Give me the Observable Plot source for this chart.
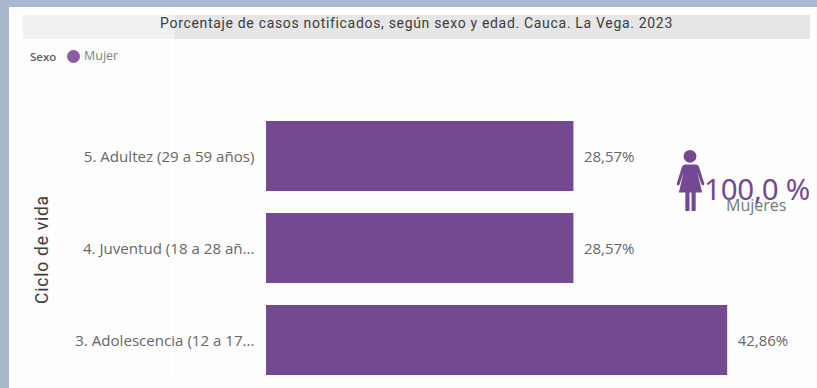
<!DOCTYPE html>
<html lang="es">
<head>
<meta charset="utf-8">
<script src="https://cdn.jsdelivr.net/npm/d3@7"></script>
<script src="https://cdn.jsdelivr.net/npm/@observablehq/plot@0.6"></script>
<style>
html,body{margin:0;padding:0;background:#fff;overflow:hidden}
#stage{position:relative;width:817px;height:388px;background:#fefefe;overflow:hidden;font-family:"Open Sans",sans-serif}
.abs{position:absolute;white-space:nowrap}
#frameTop{left:0;top:0;width:817px;height:7px;background:#a9b8cc}
#frameLeft{left:0;top:0;width:9px;height:388px;background:#a9b8cc}
#band{left:23px;top:15px;width:787px;height:24px;background:#e6e6e6}
#title{left:23px;top:14px;width:787px;text-align:center;font:14px/19px Roboto,sans-serif;letter-spacing:.68px;color:#3c3c3c}
#veil{left:11px;top:9px;width:164px;height:367px;background:rgba(255,255,255,.45);box-shadow:0 0 6px rgba(0,0,0,.025)}
#legTitle{left:30px;top:49px;font:600 11.5px/15px "Open Sans",sans-serif;color:#605e5c}
#legDot{left:67px;top:50px;width:13px;height:13px;border-radius:50%;background:#8a5ca5}
#legText{left:84px;top:48px;font:12.5px/16px "Open Sans",sans-serif;color:#7b8389}
#chart{left:0;top:0}
#icon{left:673px;top:147px}
#kpi{left:704px;top:170px;font:29.5px/38px "Noto Sans",sans-serif;color:#744992;letter-spacing:-.2px}
#kpiLabel{left:726px;top:195px;font:16px/20px "Open Sans",sans-serif;color:#6f7a80}
.ytitle text{letter-spacing:.75px}
</style>
</head>
<body>
<div id="stage">
  <div class="abs" id="frameTop"></div>
  <div class="abs" id="frameLeft"></div>
  <div class="abs" id="band"></div>
  <div class="abs" id="veil"></div>
  <div class="abs" id="title">Porcentaje de casos notificados, según sexo y edad. Cauca. La Vega. 2023</div>
  <div class="abs" id="chart"></div>
  <div class="abs" id="legTitle">Sexo</div>
  <div class="abs" id="legDot"></div>
  <div class="abs" id="legText">Mujer</div>
  <svg class="abs" id="icon" width="34" height="64" viewBox="0 0 32 62" aria-hidden="true">
    <circle cx="16" cy="9" r="6.2" fill="#744992"/>
    <path d="M10.5 17h11c1.6 0 2.8.9 3.3 2.4l5 15.6c.6 2-2 3-2.8 1l-3.800-11.200 4.600 19.200h-6.300V61c0 2.800-4 2.800-4 0V44h-2V61c0 2.800-4 2.800-4 0V44H5.200l4.600-19.200L6 36c-.8 2-3.400 1-2.800-1l5-15.600c.5-1.500 1.700-2.400 3.300-2.400z" fill="#744992"/>
  </svg>
  <div class="abs" id="kpi">100,0 %</div>
  <div class="abs" id="kpiLabel">Mujeres</div>
</div>
<script>
const categories = ["5. Adultez (29 a 59 años)", "4. Juventud (18 a 28 añ...", "3. Adolescencia (12 a 17..."];
const percentages = [28.57, 28.57, 42.86];
const axisTitle = ["Ciclo de vida"];
const rows = categories.map((ciclo, i) => ({ciclo, pct: percentages[i]}));
const fmt = v => v.toFixed(2).replace(".", ",") + "%";

const plot = Plot.plot({
  width: 817,
  height: 388,
  marginLeft: 266, marginRight: 13, marginTop: 0, marginBottom: 0,
  style: {background: "transparent", fontFamily: "'Open Sans',sans-serif", overflow: "visible"},
  x: {domain: [0, 50], range: [266, 804], axis: null},
  y: {domain: categories, range: [99, 397], padding: 0.239, label: null},
  marks: [
    Plot.axisY({
      anchor: "left",
      tickSize: 0,
      tickPadding: 12,
      fontSize: 15.1,
      color: "#666",
      label: null,
      textAnchor: "end",
      dy: 1
    }),
    Plot.barX(rows, {x: "pct", y: "ciclo", fill: "#744992"}),
    Plot.text(rows, {x: "pct", y: "ciclo", text: d => fmt(d.pct), textAnchor: "start", dx: 10, dy: 1, fontSize: 15, fill: "#666"}),
    Plot.text(axisTitle, {
      text: d => d,
      className: "ytitle",
      frameAnchor: "left",
      rotate: -90,
      dx: -224,
      dy: 55,
      textAnchor: "middle",
      fontSize: 17.5,
      fontFamily: "Roboto,sans-serif",
      fill: "#3c3c3c",
      stroke: "none"
    })
  ]
});
document.getElementById("chart").appendChild(plot);
</script>
</body>
</html>
